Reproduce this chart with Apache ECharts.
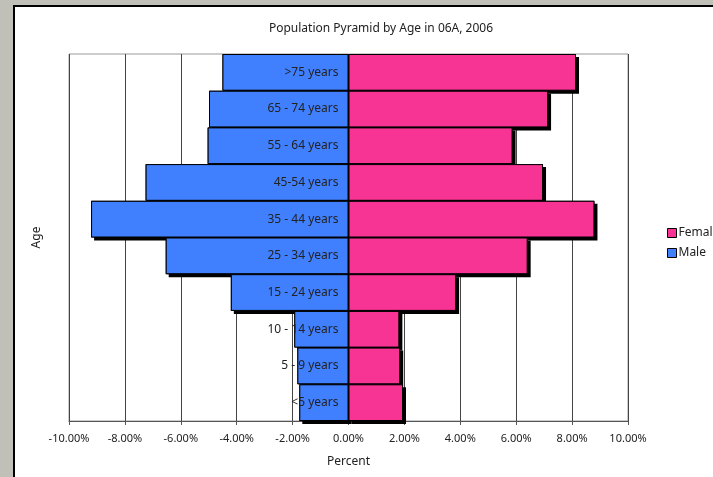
<!DOCTYPE html>
<html>
<head>
<meta charset="utf-8">
<script src="https://cdn.jsdelivr.net/npm/echarts@6/dist/echarts.min.js"></script>
<style>
  html, body { margin: 0; padding: 0; background: #c0c0b9; }
  #main { width: 713px; height: 477px; }
</style>
</head>
<body>
<div id="main"></div>
<script>
// age groups, top of the pyramid first
var ageGroups = ['>75 years', '65 - 74 years', '55 - 64 years', '45-54 years', '35 - 44 years',
  '25 - 34 years', '15 - 24 years', '10 - 14 years', '5 - 9 years', '<5 years']
// percent of population, male drawn to the left (negative)
var male = [-4.51, -4.99, -5.04, -7.26, -9.21, -6.54, -4.21, -1.94, -1.83, -1.76]
var female = [8.14, 7.14, 5.87, 6.96, 8.80, 6.41, 3.85, 1.82, 1.85, 1.95]

var font = 'Noto Sans'
var myChart = echarts.init(document.getElementById('main'))

// black drop shadow drawn under the bars (not in legend)
var shadowSeries = function(name, data) {
  return {
    name: name,
    type: 'bar',
    data: data,
    z: 1,
    barGap: '-100%',
    barCategoryGap: 0,
    silent: true,
    itemStyle: {
      color: '#000',
      shadowColor: '#000',
      shadowBlur: 0,
      shadowOffsetX: 3,
      shadowOffsetY: 3
    }
  }
}

myChart.setOption({
  backgroundColor: '#c0c0b9',
  animation: false,
  textStyle: { fontFamily: font },
  graphic: [
    {
      type: 'rect',
      z: -100,
      shape: { x: 14, y: 6, width: 720, height: 490 },
      style: { fill: '#fff', stroke: '#000', lineWidth: 2 }
    }
  ],
  title: {
    text: 'Population Pyramid by Age in 06A, 2006',
    left: 376,
    top: 18,
    textAlign: 'center',
    textStyle: { fontFamily: font, fontSize: 12, fontWeight: 'normal', color: '#222' }
  },
  legend: {
    data: ['Female', 'Male'],
    orient: 'vertical',
    left: 662,
    top: 222,
    icon: 'rect',
    itemWidth: 9,
    itemHeight: 9,
    itemGap: 8,
    itemStyle: { borderColor: '#000', borderWidth: 1 },
    textStyle: { fontFamily: font, fontSize: 12, color: '#222', padding: [0, 0, 0, -3] }
  },
  grid: {
    left: 69,
    right: 85,
    top: 54,
    bottom: 56,
    show: true,
    backgroundColor: '#fff',
    borderColor: '#999',
    borderWidth: 1
  },
  xAxis: {
    type: 'value',
    min: -10,
    max: 10,
    interval: 2,
    name: 'Percent',
    nameLocation: 'middle',
    nameGap: 35,
    nameTextStyle: { fontSize: 12, color: '#222' },
    axisLine: { show: true, onZero: false, lineStyle: { color: '#555', width: 1 } },
    axisTick: { show: true, length: 4, lineStyle: { color: '#555' } },
    axisLabel: {
      margin: 12,
      fontSize: 11,
      color: '#222',
      formatter: function(v) { return v.toFixed(2) + '%' }
    },
    splitLine: { show: true, lineStyle: { color: '#444', width: 1 } }
  },
  yAxis: {
    type: 'category',
    inverse: true,
    data: ageGroups,
    name: 'Age',
    nameLocation: 'middle',
    nameGap: 26,
    nameRotate: 90,
    nameTextStyle: { fontSize: 12, color: '#222' },
    axisLine: { show: false },
    axisTick: { show: false },
    axisLabel: { show: false }
  },
  series: [
    shadowSeries('maleShadow', male),
    shadowSeries('femaleShadow', female),
    {
      name: 'Male',
      type: 'bar',
      data: male,
      z: 2,
      barGap: '-100%',
      barCategoryGap: 0,
      itemStyle: { color: '#4080ff', borderColor: '#000', borderWidth: 1 },
      label: {
        show: true,
        position: 'insideRight',
        distance: 10,
        fontSize: 12,
        color: '#222',
        formatter: function(p) { return ageGroups[p.dataIndex] }
      }
    },
    {
      name: 'Female',
      type: 'bar',
      data: female,
      z: 2,
      barGap: '-100%',
      barCategoryGap: 0,
      itemStyle: { color: '#f73393', borderColor: '#000', borderWidth: 1 }
    }
  ]
})
</script>
</body>
</html>
